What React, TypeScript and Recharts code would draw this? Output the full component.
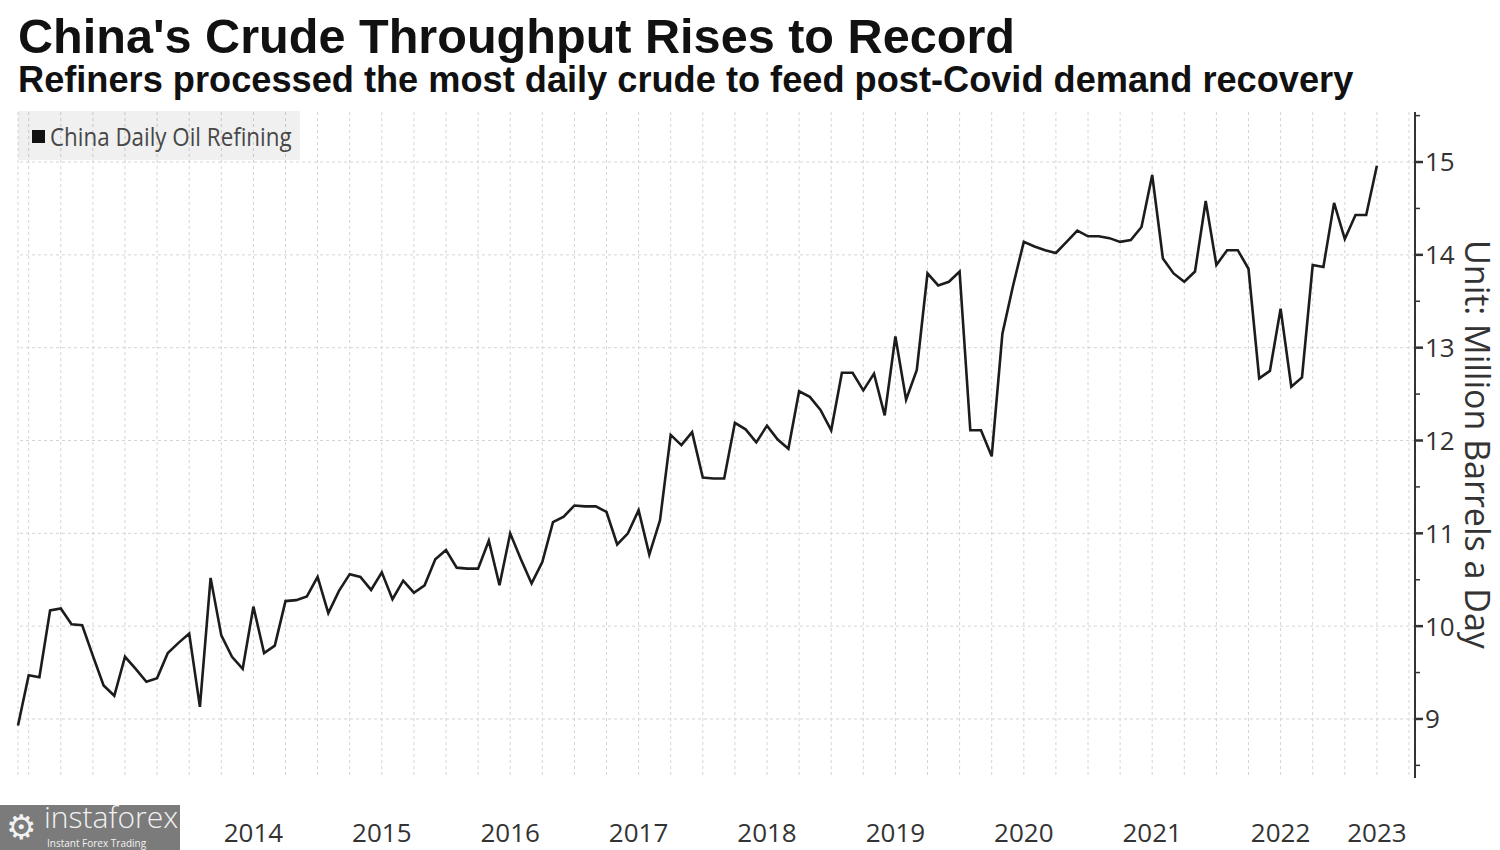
import React from 'react';
import { LineChart, Line, XAxis, YAxis, CartesianGrid, ReferenceLine } from 'recharts';

// China daily oil refining, million barrels a day, one value per month as plotted (Sep 2012 -> Apr 2023)
const y2012 = [8.93, 9.47, 9.45, 10.17];
const y2013 = [10.19, 10.02, 10.01, 9.68, 9.36, 9.25, 9.67, 9.54, 9.4, 9.44, 9.71, 9.82];
const y2014 = [9.92, 9.13, 10.52, 9.9, 9.67, 9.54, 10.21, 9.71, 9.79, 10.27, 10.28, 10.32];
const y2015 = [10.53, 10.14, 10.38, 10.56, 10.53, 10.39, 10.58, 10.29, 10.49, 10.36, 10.44, 10.72];
const y2016 = [10.82, 10.63, 10.62, 10.62, 10.92, 10.44, 11.0, 10.72, 10.46, 10.69, 11.12, 11.18];
const y2017 = [11.3, 11.29, 11.29, 11.23, 10.88, 11.0, 11.25, 10.77, 11.14, 12.06, 11.95, 12.09];
const y2018 = [11.6, 11.59, 11.59, 12.19, 12.12, 11.98, 12.16, 12.01, 11.91, 12.53, 12.47, 12.33];
const y2019 = [12.11, 12.73, 12.73, 12.54, 12.72, 12.27, 13.12, 12.44, 12.76, 13.8, 13.67, 13.71];
const y2020 = [13.82, 12.11, 12.11, 11.83, 13.15, 13.67, 14.14, 14.09, 14.05, 14.02, 14.14, 14.26];
const y2021 = [14.2, 14.2, 14.18, 14.14, 14.16, 14.3, 14.86, 13.96, 13.8, 13.71, 13.82, 14.58];
const y2022 = [13.89, 14.05, 14.05, 13.85, 12.67, 12.75, 13.42, 12.58, 12.68, 13.89, 13.87, 14.56];
const y2023 = [14.17, 14.43, 14.43, 14.96];

const years: [number, number, number[]][] = [
  [2012, 9, y2012], [2013, 1, y2013], [2014, 1, y2014], [2015, 1, y2015],
  [2016, 1, y2016], [2017, 1, y2017], [2018, 1, y2018], [2019, 1, y2019],
  [2020, 1, y2020], [2021, 1, y2021], [2022, 1, y2022], [2023, 1, y2023],
];
// empty months after the last print, the axis runs on to mid 2023
const emptyMonths = ['2023-05', '2023-06', '2023-07'];

// 2013 sits under the watermark in the original, so it is not drawn
const yearLabels: Record<string, string> = {
  '2014-07': '2014', '2015-07': '2015', '2016-07': '2016', '2017-07': '2017',
  '2018-07': '2018', '2019-07': '2019', '2020-07': '2020', '2021-07': '2021', '2022-07': '2022',
  '2023-04': '2023',
};
const gridValues = [9, 10, 11, 12, 13, 14, 15];
const yTicks = [8.5, 9, 9.5, 10, 10.5, 11, 11.5, 12, 12.5, 13, 13.5, 14, 14.5, 15, 15.5];

const key = (y: number, m: number) => `${y}-${String(m).padStart(2, '0')}`;

const rows: { month: string; value: number | null }[] = [];
years.forEach(([yr, start, vals]) => {
  vals.forEach((v, i) => rows.push({ month: key(yr, start + i), value: v }));
});
emptyMonths.forEach((m) => rows.push({ month: m, value: null }));

const quarterTicks = rows.map((r) => r.month).filter((m) => ['01', '04', '07', '10'].includes(m.slice(5)));

const FONT = "'Open Sans', 'Noto Sans', sans-serif";
const HEAD = "'Liberation Sans', Arial, sans-serif";

const YearTick = (props: any) => {
  const { x, y, payload } = props;
  const label = yearLabels[payload.value];
  if (!label) return <g />;
  return (
    <text x={x} y={y + 64} textAnchor="middle" fontSize={26} fill="#333" fontFamily={FONT}>
      {label}
    </text>
  );
};

const ValueTick = (props: any) => {
  const { x, y, payload } = props;
  const major = Number.isInteger(payload.value);
  return (
    <g>
      <line x1={x} x2={x + (major ? 8 : 5)} y1={y} y2={y} stroke="#333" strokeWidth={major ? 2.5 : 1.5} />
      {major && (
        <text x={x + 10} y={y} dy="0.36em" fontSize={26} fill="#333" fontFamily={FONT}>
          {payload.value}
        </text>
      )}
    </g>
  );
};

export default function App() {
  return (
    <div style={{ position: 'absolute', left: 0, top: 0, width: 1500, height: 850, background: '#fff', fontFamily: FONT, overflow: 'hidden' }}>
      <div style={{ position: 'absolute', left: 18, top: 12, fontFamily: HEAD, fontWeight: 700, fontSize: 48.6, lineHeight: '48px', color: '#111', whiteSpace: 'nowrap' }}>
        China's Crude Throughput Rises to Record
      </div>
      <div style={{ position: 'absolute', left: 18, top: 62, fontFamily: HEAD, fontWeight: 700, fontSize: 36.2, lineHeight: '36px', color: '#111', whiteSpace: 'nowrap' }}>
        Refiners processed the most daily crude to feed post-Covid demand recovery
      </div>

      <LineChart width={1500} height={850} data={rows} margin={{ top: 112, right: 25, bottom: 22, left: 18 }}>
        <CartesianGrid vertical horizontal={false} stroke="#d4d4d4" strokeDasharray="3 3" />
        {gridValues.map((v) => (
          <ReferenceLine key={v} y={v} stroke="#d4d4d4" strokeDasharray="3 3" />
        ))}
        <XAxis
          dataKey="month"
          ticks={quarterTicks}
          interval={0}
          axisLine={false}
          tickLine={false}
          tickSize={0}
          tickMargin={0}
          height={50}
          padding={{ left: 0, right: 6 }}
          tick={(p: any) => <YearTick {...p} />}
        />
        <YAxis
          orientation="right"
          domain={[8.364, 15.539]}
          ticks={yTicks}
          interval={0}
          allowDataOverflow
          width={60}
          axisLine={{ stroke: '#333', strokeWidth: 2 }}
          tickLine={false}
          tickSize={0}
          tickMargin={0}
          tick={(p: any) => <ValueTick {...p} />}
        />
        <Line
          type="linear"
          dataKey="value"
          stroke="#1c1c1c"
          strokeWidth={2.6}
          dot={false}
          isAnimationActive={false}
        />
      </LineChart>

      <div style={{ position: 'absolute', left: 18, top: 111, width: 282, height: 49, background: 'rgba(0,0,0,0.06)' }}>
        <div style={{ position: 'absolute', left: 14, top: 19, width: 13, height: 13, background: '#111' }} />
        <div style={{ position: 'absolute', left: 32, top: 10, fontSize: 26, lineHeight: '30px', color: '#474747', whiteSpace: 'nowrap', transform: 'scaleX(0.86)', transformOrigin: 'left center' }}>
          China Daily Oil Refining
        </div>
      </div>

      <div style={{ position: 'absolute', left: 1459, top: 240, height: 412, writingMode: 'vertical-rl', fontSize: 34, lineHeight: '38px', color: '#333', whiteSpace: 'nowrap' }}>
        Unit: Million Barrels a Day
      </div>

      <div style={{ position: 'absolute', left: 0, top: 805, width: 180, height: 45, background: '#7b7b7b', color: '#f2f2f2' }}>
        <div style={{ position: 'absolute', left: 6, top: 3, fontSize: 34, lineHeight: '38px', fontFamily: "'DejaVu Sans', sans-serif" }}>⚙</div>
        <div style={{ position: 'absolute', left: 44, top: -3, fontSize: 30, lineHeight: '30px', fontWeight: 300 }}>instaforex</div>
        <div style={{ position: 'absolute', left: 47, top: 33, fontSize: 10, lineHeight: '11px' }}>Instant Forex Trading</div>
      </div>
    </div>
  );
}
